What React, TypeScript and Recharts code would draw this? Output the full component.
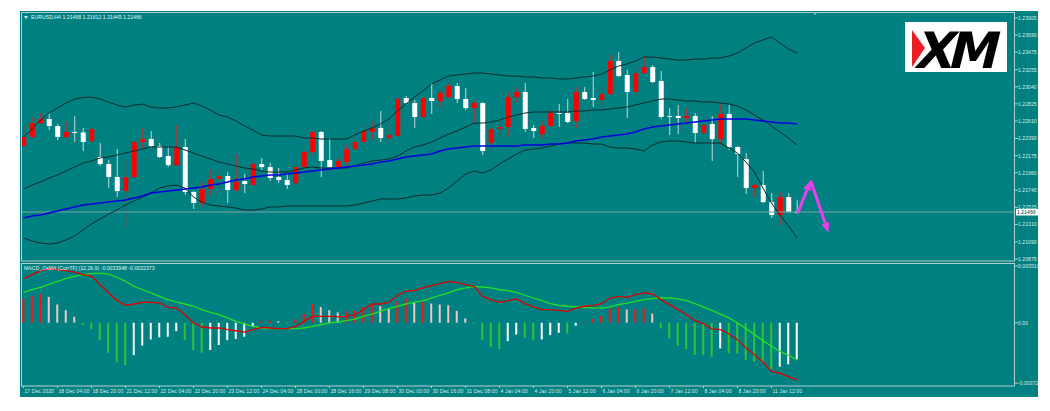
import React from 'react';
import { ComposedChart, Bar, Line, XAxis, YAxis, ReferenceLine, Cell } from 'recharts';

// EURUSD H4, 17 Dec 2020 -> 11 Jan 2021 (one entry per bar)
const TIME_LABELS = [
  '17 Dec 2020', '18 Dec 04:00', '18 Dec 20:00', '21 Dec 12:00', '22 Dec 04:00', '22 Dec 20:00',
  '23 Dec 12:00', '24 Dec 04:00', '28 Dec 00:00', '28 Dec 16:00', '29 Dec 08:00', '30 Dec 00:00',
  '30 Dec 16:00', '31 Dec 08:00', '4 Jan 04:00', '4 Jan 20:00', '5 Jan 12:00', '6 Jan 04:00',
  '6 Jan 20:00', '7 Jan 12:00', '8 Jan 04:00', '8 Jan 20:00', '11 Jan 12:00',
];
const TIME_TICKS = TIME_LABELS.map((_, k) => k * 4);

const OPEN = [
  1.22295, 1.22409, 1.22584, 1.22635, 1.22547, 1.22409, 1.22471, 1.22465, 1.22358, 1.22157,
  1.22069, 1.21906, 1.21729, 1.21906, 1.22346, 1.22383, 1.22295, 1.22170, 1.22056, 1.22283,
  1.21717, 1.21579, 1.21755, 1.21880, 1.21918, 1.21742, 1.21855, 1.21805, 1.22069, 1.22031,
  1.21906, 1.21868, 1.21830, 1.22031, 1.22220, 1.22471, 1.22119, 1.22031, 1.22094, 1.22258,
  1.22346, 1.22471, 1.22522, 1.22396, 1.22421, 1.22899, 1.22836, 1.22660, 1.22899, 1.22861,
  1.22911, 1.23050, 1.22886, 1.22773, 1.22836, 1.22333, 1.22509, 1.22534, 1.22911, 1.22974,
  1.22522, 1.22446, 1.22547, 1.22710, 1.22710, 1.22610, 1.22974, 1.22899, 1.22874, 1.22949,
  1.23364, 1.23188, 1.22974, 1.23213, 1.23288, 1.23112, 1.22673, 1.22673, 1.22647, 1.22673,
  1.22459, 1.22572, 1.22383, 1.22698, 1.22283, 1.22132, 1.21767, 1.21805, 1.21591, 1.21428,
  1.21654, 1.21468,
];
const HIGH = [
  1.22584, 1.22660, 1.22710, 1.22710, 1.22572, 1.22610, 1.22673, 1.22522, 1.22522, 1.22333,
  1.22119, 1.22258, 1.22132, 1.22358, 1.22522, 1.22484, 1.22333, 1.22283, 1.22559, 1.22383,
  1.21729, 1.21843, 1.21994, 1.21994, 1.21968, 1.22195, 1.21943, 1.22094, 1.22144, 1.22082,
  1.22019, 1.21956, 1.22069, 1.22232, 1.22484, 1.22484, 1.22396, 1.22144, 1.22320, 1.22409,
  1.22584, 1.22597, 1.22735, 1.22572, 1.22936, 1.22924, 1.22874, 1.22911, 1.23087, 1.22999,
  1.23087, 1.23087, 1.23024, 1.22874, 1.22848, 1.22534, 1.22584, 1.22974, 1.23037, 1.23087,
  1.22559, 1.22610, 1.22748, 1.22823, 1.22886, 1.23037, 1.23037, 1.23225, 1.23050, 1.23439,
  1.23477, 1.23251, 1.23314, 1.23427, 1.23314, 1.23239, 1.22773, 1.22811, 1.22773, 1.22710,
  1.22660, 1.22673, 1.22823, 1.22811, 1.22295, 1.22207, 1.21818, 1.21981, 1.21704, 1.21717,
  1.21704, 1.21612,
];
const LOW = [
  1.22270, 1.22396, 1.22572, 1.22496, 1.22371, 1.22396, 1.22346, 1.22232, 1.22333, 1.22044,
  1.21767, 1.21654, 1.21277, 1.21893, 1.22270, 1.22270, 1.22144, 1.22031, 1.22044, 1.21679,
  1.21504, 1.21529, 1.21667, 1.21704, 1.21579, 1.21717, 1.21704, 1.21792, 1.21994, 1.21855,
  1.21830, 1.21755, 1.21780, 1.22019, 1.22182, 1.21906, 1.22019, 1.22019, 1.22031, 1.22245,
  1.22333, 1.22371, 1.22346, 1.22346, 1.22409, 1.22811, 1.22522, 1.22647, 1.22698, 1.22786,
  1.22899, 1.22836, 1.22748, 1.22584, 1.22182, 1.22258, 1.22396, 1.22409, 1.22848, 1.22471,
  1.22396, 1.22396, 1.22534, 1.22534, 1.22584, 1.22522, 1.22874, 1.22786, 1.22748, 1.22936,
  1.23163, 1.22647, 1.22936, 1.23200, 1.23087, 1.22635, 1.22434, 1.22446, 1.22597, 1.22333,
  1.22446, 1.22107, 1.22308, 1.22245, 1.21906, 1.21692, 1.21654, 1.21579, 1.21390, 1.21302,
  1.21453, 1.21445,
];
const CLOSE = [
  1.22409, 1.22584, 1.22635, 1.22547, 1.22409, 1.22471, 1.22465, 1.22346, 1.22509, 1.22069,
  1.21906, 1.21729, 1.21906, 1.22346, 1.22383, 1.22295, 1.22157, 1.22056, 1.22283, 1.21717,
  1.21579, 1.21755, 1.21880, 1.21918, 1.21742, 1.21843, 1.21818, 1.22069, 1.22031, 1.21893,
  1.21868, 1.21805, 1.22031, 1.22220, 1.22471, 1.22107, 1.22031, 1.22107, 1.22258, 1.22346,
  1.22484, 1.22522, 1.22396, 1.22434, 1.22886, 1.22836, 1.22660, 1.22899, 1.22861, 1.22962,
  1.23050, 1.22886, 1.22773, 1.22836, 1.22232, 1.22509, 1.22534, 1.22911, 1.22974, 1.22509,
  1.22484, 1.22547, 1.22710, 1.22704, 1.22597, 1.22974, 1.22886, 1.22874, 1.22949, 1.23364,
  1.23175, 1.22974, 1.23213, 1.23288, 1.23100, 1.22660, 1.22666, 1.22647, 1.22673, 1.22459,
  1.22559, 1.22383, 1.22698, 1.22283, 1.22195, 1.21767, 1.21805, 1.21591, 1.21428, 1.21654,
  1.21468, 1.21466,
];

// Bollinger bands and moving average
const BB_UPPER = [
  1.22409, 1.22509, 1.22622, 1.22710, 1.22773, 1.22836, 1.22886, 1.22905, 1.22911, 1.22886,
  1.22848, 1.22811, 1.22786, 1.22811, 1.22823, 1.22786, 1.22773, 1.22773, 1.22786, 1.22811,
  1.22836, 1.22798, 1.22748, 1.22685, 1.22660, 1.22610, 1.22547, 1.22496, 1.22434, 1.22421,
  1.22421, 1.22421, 1.22421, 1.22396, 1.22396, 1.22383, 1.22383, 1.22383, 1.22383, 1.22434,
  1.22484, 1.22522, 1.22572, 1.22635, 1.22735, 1.22823, 1.22911, 1.22987, 1.23075, 1.23125,
  1.23175, 1.23188, 1.23200, 1.23213, 1.23213, 1.23200, 1.23188, 1.23175, 1.23175, 1.23163,
  1.23163, 1.23150, 1.23150, 1.23138, 1.23138, 1.23150, 1.23163, 1.23175, 1.23200, 1.23251,
  1.23301, 1.23326, 1.23364, 1.23414, 1.23414, 1.23402, 1.23389, 1.23376, 1.23376, 1.23389,
  1.23389, 1.23402, 1.23402, 1.23427, 1.23464, 1.23527, 1.23590, 1.23628, 1.23666, 1.23590,
  1.23515, 1.23464,
];
const BB_MIDDLE = [
  1.21755, 1.21805, 1.21843, 1.21893, 1.21931, 1.21981, 1.22031, 1.22082, 1.22107, 1.22144,
  1.22157, 1.22182, 1.22207, 1.22232, 1.22258, 1.22283, 1.22283, 1.22283, 1.22283, 1.22245,
  1.22207, 1.22170, 1.22132, 1.22094, 1.22069, 1.22044, 1.22019, 1.22006, 1.21981, 1.21968,
  1.21968, 1.21968, 1.21994, 1.22019, 1.22031, 1.22019, 1.22019, 1.22019, 1.22019, 1.22044,
  1.22082, 1.22107, 1.22119, 1.22132, 1.22170, 1.22232, 1.22283, 1.22308, 1.22346, 1.22396,
  1.22446, 1.22484, 1.22534, 1.22584, 1.22584, 1.22597, 1.22622, 1.22660, 1.22685, 1.22710,
  1.22723, 1.22723, 1.22723, 1.22723, 1.22723, 1.22735, 1.22735, 1.22748, 1.22748, 1.22761,
  1.22773, 1.22786, 1.22811, 1.22836, 1.22861, 1.22886, 1.22886, 1.22874, 1.22861, 1.22861,
  1.22848, 1.22848, 1.22836, 1.22823, 1.22798, 1.22748, 1.22685, 1.22622, 1.22547, 1.22471,
  1.22396, 1.22308,
];
const BB_LOWER = [
  1.21139, 1.21101, 1.21076, 1.21063, 1.21076, 1.21114, 1.21164, 1.21240, 1.21315, 1.21378,
  1.21440, 1.21491, 1.21554, 1.21604, 1.21654, 1.21704, 1.21767, 1.21792, 1.21805, 1.21767,
  1.21654, 1.21591, 1.21554, 1.21541, 1.21529, 1.21516, 1.21491, 1.21491, 1.21503, 1.21529,
  1.21529, 1.21541, 1.21541, 1.21541, 1.21541, 1.21541, 1.21541, 1.21541, 1.21541, 1.21554,
  1.21579, 1.21604, 1.21629, 1.21629, 1.21629, 1.21642, 1.21667, 1.21679, 1.21679, 1.21704,
  1.21767, 1.21855, 1.21943, 1.21981, 1.21956, 1.21994, 1.22069, 1.22132, 1.22195, 1.22245,
  1.22258, 1.22270, 1.22295, 1.22320, 1.22333, 1.22333, 1.22333, 1.22320, 1.22320, 1.22283,
  1.22270, 1.22270, 1.22258, 1.22232, 1.22308, 1.22346, 1.22358, 1.22358, 1.22346, 1.22333,
  1.22333, 1.22333, 1.22333, 1.22270, 1.22207, 1.22094, 1.21968, 1.21767, 1.21579, 1.21428,
  1.21290, 1.21139,
];
const MA = [
  1.21390, 1.21415, 1.21428, 1.21453, 1.21478, 1.21503, 1.21529, 1.21554, 1.21566, 1.21579,
  1.21591, 1.21604, 1.21617, 1.21642, 1.21667, 1.21704, 1.21717, 1.21729, 1.21742, 1.21755,
  1.21767, 1.21780, 1.21805, 1.21818, 1.21843, 1.21868, 1.21880, 1.21906, 1.21918, 1.21931,
  1.21931, 1.21943, 1.21956, 1.21968, 1.21981, 1.21994, 1.22006, 1.22019, 1.22031, 1.22044,
  1.22056, 1.22069, 1.22094, 1.22107, 1.22132, 1.22157, 1.22170, 1.22182, 1.22195, 1.22232,
  1.22258, 1.22270, 1.22283, 1.22295, 1.22295, 1.22295, 1.22295, 1.22295, 1.22295, 1.22308,
  1.22308, 1.22308, 1.22320, 1.22320, 1.22333, 1.22358, 1.22371, 1.22383, 1.22409, 1.22421,
  1.22434, 1.22446, 1.22471, 1.22509, 1.22534, 1.22547, 1.22559, 1.22572, 1.22584, 1.22597,
  1.22610, 1.22622, 1.22635, 1.22635, 1.22635, 1.22635, 1.22622, 1.22610, 1.22597, 1.22584,
  1.22584, 1.22572,
];

// MACD_OsMA pane
const OSMA = [
  0.00146, 0.00166, 0.00178, 0.00160, 0.00113, 0.00078, 0.00037, -0.00014, -0.00039, -0.00107,
  -0.00185, -0.00244, -0.00260, -0.00199, -0.00141, -0.00103, -0.00090, -0.00086, -0.00051, -0.00107,
  -0.00168, -0.00185, -0.00168, -0.00137, -0.00107, -0.00100, -0.00086, -0.00025, 0.00010, 0.00014,
  0.00010, -0.00008, 0.00021, 0.00057, 0.00115, 0.00098, 0.00078, 0.00064, 0.00072, 0.00078,
  0.00098, 0.00113, 0.00103, 0.00088, 0.00133, 0.00150, 0.00123, 0.00129, 0.00119, 0.00113,
  0.00109, 0.00074, 0.00027, -0.00006, -0.00107, -0.00148, -0.00162, -0.00113, -0.00072, -0.00092,
  -0.00107, -0.00103, -0.00076, -0.00062, -0.00066, -0.00018, 0.00006, 0.00023, 0.00041, 0.00088,
  0.00098, 0.00082, 0.00084, 0.00088, 0.00057, -0.00035, -0.00096, -0.00141, -0.00162, -0.00199,
  -0.00200, -0.00211, -0.00158, -0.00189, -0.00190, -0.00230, -0.00240, -0.00244, -0.00285, -0.00271,
  -0.00256, -0.00224,
];
const MACD_MAIN = [
  0.00272, 0.00297, 0.00322, 0.00332, 0.00328, 0.00322, 0.00313, 0.00297, 0.00287, 0.00235,
  0.00184, 0.00137, 0.00108, 0.00116, 0.00126, 0.00128, 0.00122, 0.00095, 0.00091, 0.00050,
  -0.00001, -0.00026, -0.00032, -0.00032, -0.00042, -0.00049, -0.00057, -0.00042, -0.00028, -0.00032,
  -0.00036, -0.00036, -0.00022, 0.00009, 0.00040, 0.00040, 0.00040, 0.00036, 0.00040, 0.00050,
  0.00081, 0.00116, 0.00116, 0.00128, 0.00170, 0.00194, 0.00200, 0.00215, 0.00229, 0.00241,
  0.00256, 0.00250, 0.00235, 0.00225, 0.00163, 0.00143, 0.00126, 0.00137, 0.00147, 0.00118,
  0.00098, 0.00081, 0.00081, 0.00077, 0.00071, 0.00091, 0.00102, 0.00106, 0.00118, 0.00153,
  0.00163, 0.00157, 0.00174, 0.00184, 0.00178, 0.00143, 0.00112, 0.00081, 0.00050, 0.00013,
  -0.00005, -0.00038, -0.00042, -0.00069, -0.00104, -0.00156, -0.00197, -0.00242, -0.00300, -0.00310,
  -0.00334, -0.00350,
];
const MACD_SIGNAL = [
  0.00188, 0.00204, 0.00219, 0.00237, 0.00256, 0.00272, 0.00287, 0.00297, 0.00303, 0.00307,
  0.00301, 0.00281, 0.00256, 0.00225, 0.00204, 0.00184, 0.00163, 0.00143, 0.00128, 0.00116,
  0.00102, 0.00081, 0.00065, 0.00050, 0.00030, 0.00009, -0.00007, -0.00022, -0.00032, -0.00036,
  -0.00036, -0.00036, -0.00036, -0.00032, -0.00022, -0.00012, -0.00001, 0.00005, 0.00013, 0.00023,
  0.00040, 0.00054, 0.00071, 0.00087, 0.00102, 0.00116, 0.00128, 0.00137, 0.00153, 0.00170,
  0.00184, 0.00204, 0.00215, 0.00223, 0.00221, 0.00215, 0.00204, 0.00198, 0.00188, 0.00170,
  0.00153, 0.00137, 0.00118, 0.00108, 0.00102, 0.00098, 0.00095, 0.00091, 0.00091, 0.00098,
  0.00112, 0.00122, 0.00132, 0.00143, 0.00149, 0.00153, 0.00153, 0.00147, 0.00137, 0.00118,
  0.00098, 0.00077, 0.00054, 0.00030, -0.00001, -0.00036, -0.00073, -0.00110, -0.00145, -0.00176,
  -0.00201, -0.00228,
];

const PRICE_TICKS = [
  1.20875, 1.21090, 1.21310, 1.21525, 1.21740, 1.21960, 1.22175, 1.22390,
  1.22610, 1.22825, 1.23040, 1.23255, 1.23475, 1.23690, 1.23905,
];
const MACD_TICKS = [0.00351, 0, -0.003723];
const MACD_TICK_TEXT = ['0.003510', '0.00', '-0.003723'];
const LAST_PRICE = 1.21466;

// hand-drawn magenta arrow: bar index / price
const ARROW_POINTS = [
  { x: 91.1, y: 1.21453 },
  { x: 92.6, y: 1.21862 },
  { x: 94.7, y: 1.21205 },
];

const TEAL = '#008080';
const FRAME = '#b0d0d0';
const TXT = '#d6eaea';
const FONT = 'Liberation Sans, Arial, sans-serif';
const X_DOMAIN = [-0.294, 116.65];

const candles = OPEN.map((o, i) => ({
  i, o, h: HIGH[i], l: LOW[i], c: CLOSE[i],
  upper: BB_UPPER[i], mid: BB_MIDDLE[i], lower: BB_LOWER[i], ma: MA[i],
}));
const macdRows = OSMA.map((v, i) => ({ i, hist: v, main: MACD_MAIN[i], signal: MACD_SIGNAL[i] }));

const histColor = (i: number) => {
  const v = OSMA[i];
  const prev = i > 0 ? OSMA[i - 1] : v - 1;
  if (v >= 0) return v >= prev ? '#ff1010' : '#f2c6c6';
  return v <= prev ? '#33c233' : '#ffffff';
};

const Candle = (props: any) => {
  const { x, y, width, height, payload } = props;
  const { o, h, l, c } = payload;
  const top = height >= 0 ? y : y + height;
  const span = Math.abs(height);
  const k = h > l ? span / (h - l) : 0;
  const yo = top + (h - o) * k;
  const yc = top + (h - c) * k;
  const up = c > o;
  const cx = x + width / 2;
  return (
    <g>
      <line x1={cx} x2={cx} y1={top} y2={top + span} stroke={up ? '#b83030' : '#c4dada'} strokeWidth={1} />
      <rect x={x} y={Math.min(yo, yc)} width={width} height={Math.max(1, Math.abs(yo - yc))} fill={up ? '#ff0000' : '#ffffff'} />
    </g>
  );
};

const arrowShape = (props: any) => {
  const { x1, y1, x2, y2 } = props;
  const a = Math.atan2(y2 - y1, x2 - x1);
  const len = 10;
  const w = 4;
  const bx = x2 - Math.cos(a) * len;
  const by = y2 - Math.sin(a) * len;
  const px = -Math.sin(a) * w;
  const py = Math.cos(a) * w;
  return (
    <g>
      <line x1={x1} y1={y1} x2={bx} y2={by} stroke="#ee3cee" strokeWidth={3} />
      <polygon points={`${x2},${y2} ${bx + px},${by + py} ${bx - px},${by - py}`} fill="#ee3cee" />
    </g>
  );
};

const PriceTick = ({ x, y, payload }: any) => (
  <text x={x} y={y} dy={2} fontSize={5.2} fill={TXT} fontFamily={FONT} textAnchor="start">
    {Number(payload.value).toFixed(5)}
  </text>
);

const MacdTick = ({ x, y, payload }: any) => {
  const k = MACD_TICKS.indexOf(payload.value);
  return (
    <text x={x} y={y} dy={2} fontSize={5.2} fill={TXT} fontFamily={FONT} textAnchor="start">
      {MACD_TICK_TEXT[k]}
    </text>
  );
};

const TimeTick = ({ x, y, payload }: any) => (
  <text x={x + 1} y={y + 5} fontSize={5.2} fill={TXT} fontFamily={FONT} textAnchor="start">
    {TIME_LABELS[payload.value / 4]}
  </text>
);

const priceBadge = (props: any) => {
  const vb = props.viewBox;
  const x = vb.x + vb.width + 1;
  return (
    <g>
      <rect x={x} y={vb.y - 3} width={22} height={6.5} fill="#ffffff" />
      <text x={x + 1} y={vb.y + 2} fontSize={5.2} fill="#004848" fontFamily={FONT}>
        {LAST_PRICE.toFixed(5)}
      </text>
    </g>
  );
};

export default function App() {
  return (
    <div style={{ position: 'absolute', left: 0, top: 0, width: 1050, height: 411, background: '#fff', overflow: 'hidden' }}>
      <div style={{ position: 'absolute', left: 20, top: 11, width: 1018, height: 386, background: TEAL }} />

      <div style={{ position: 'absolute', left: 21, top: 12 }}>
        <ComposedChart width={1019} height={249} data={candles} margin={{ top: 0, right: 0, bottom: 0, left: 0 }}>
          <XAxis dataKey="i" type="number" domain={X_DOMAIN} hide />
          <YAxis
            orientation="right"
            width={25}
            domain={[1.2085, 1.2398]}
            ticks={PRICE_TICKS}
            interval={0}
            axisLine={false}
            tickLine={{ stroke: FRAME }}
            tickSize={3}
            tickMargin={0}
            tick={<PriceTick />}
          />
          <ReferenceLine y={LAST_PRICE} stroke="#7fa3a3" strokeWidth={1} label={priceBadge} />
          <Line dataKey="upper" type="linear" stroke="#0c2c2c" strokeWidth={1} dot={false} isAnimationActive={false} />
          <Line dataKey="mid" type="linear" stroke="#0c2c2c" strokeWidth={1} dot={false} isAnimationActive={false} />
          <Line dataKey="lower" type="linear" stroke="#0c2c2c" strokeWidth={1} dot={false} isAnimationActive={false} />
          <Line dataKey="ma" type="linear" stroke="#0000dd" strokeWidth={1.5} dot={false} isAnimationActive={false} />
          <Bar dataKey={(d: any) => [d.l, d.h]} barSize={5} shape={Candle} isAnimationActive={false} />
          <ReferenceLine segment={[ARROW_POINTS[0], ARROW_POINTS[1]]} ifOverflow="visible" shape={arrowShape} />
          <ReferenceLine segment={[ARROW_POINTS[1], ARROW_POINTS[2]]} ifOverflow="visible" shape={arrowShape} />
        </ComposedChart>
      </div>

      <div style={{ position: 'absolute', left: 21, top: 263 }}>
        <ComposedChart width={1019} height={134} data={macdRows} margin={{ top: 0, right: 0, bottom: 0, left: 0 }}>
          <XAxis
            dataKey="i"
            type="number"
            domain={X_DOMAIN}
            ticks={TIME_TICKS}
            interval={0}
            height={11}
            axisLine={false}
            tickLine={{ stroke: FRAME }}
            tickSize={2}
            tickMargin={0}
            tick={<TimeTick />}
          />
          <YAxis
            orientation="right"
            width={25}
            domain={[-0.0039, 0.00369]}
            ticks={MACD_TICKS}
            interval={0}
            axisLine={false}
            tickLine={{ stroke: FRAME }}
            tickSize={3}
            tickMargin={0}
            tick={<MacdTick />}
          />
          <Bar dataKey="hist" barSize={2} isAnimationActive={false}>
            {macdRows.map((r) => (
              <Cell key={r.i} fill={histColor(r.i)} />
            ))}
          </Bar>
          <Line dataKey="signal" type="linear" stroke="#22e022" strokeWidth={1.3} dot={false} isAnimationActive={false} />
          <Line dataKey="main" type="linear" stroke="#e00000" strokeWidth={1.3} dot={false} isAnimationActive={false} />
        </ComposedChart>
      </div>

      <svg width={1050} height={411} style={{ position: 'absolute', left: 0, top: 0, pointerEvents: 'none' }}>
        <rect x={21.5} y={12.5} width={993} height={248.5} fill="none" stroke={FRAME} />
        <rect x={21.5} y={263.5} width={993} height={122.5} fill="none" stroke={FRAME} />
        {/* chart shift marker */}
        <polygon points="812,12 818,12 815,15" fill="#9fb8b8" />
        <polygon points="24,16 28,16 26,19" fill="#e6f2f2" />
        <text x={31} y={19} fontSize={5.2} fill="#e6f2f2" fontFamily={FONT}>
          EURUSD,H4  1.21468 1.21612 1.21445 1.21466
        </text>
        <text x={24} y={269.5} fontSize={5.2} fill="#e6f2f2" fontFamily={FONT}>
          MACD_OsMA [CurrTF] (12,26,9) -0.0033948 -0.0022373
        </text>
        <g>
          <rect x={905} y={22} width={102} height={50} fill="#ffffff" />
          <text
            x={957}
            y={68}
            fontSize={50}
            fontWeight="bold"
            fontFamily="DejaVu Sans, sans-serif"
            fill="#000"
            textAnchor="middle"
            letterSpacing={-6}
            transform="translate(957 47) skewX(-14) translate(-957 -47)"
          >
            XM
          </text>
          <polygon points="912,30 925,48 912,67" fill="#ee1c24" />
        </g>
      </svg>
    </div>
  );
}
